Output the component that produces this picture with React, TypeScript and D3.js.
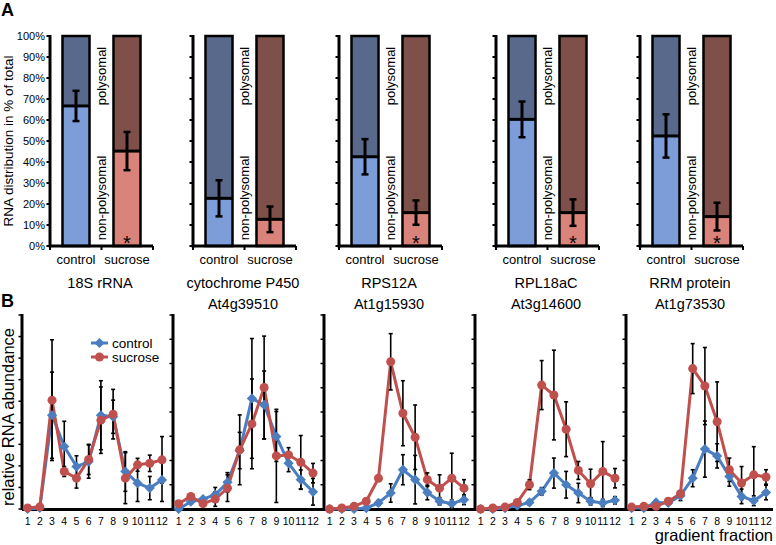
import React from "react";
import * as d3 from "d3";

// ---------- Panel A data ----------
const genes = ["18S rRNA", "cytochrome P450", "RPS12A", "RPL18aC", "RRM protein"];
const geneIds = ["", "At4g39510", "At1g15930", "At3g14600", "At1g73530"];
const conditions = ["control", "sucrose"];
const controlNonPoly = [66.7, 22.7, 42.5, 60.3, 52.4];
const controlErr = [7.2, 8.6, 8.4, 8.5, 10.3];
const sucroseNonPoly = [45.2, 12.7, 15.9, 15.9, 14.0];
const sucroseErr = [9.1, 6.1, 5.8, 6.3, 6.6];
const significant = [true, false, true, true, true];
const pctTicks = [0, 10, 20, 30, 40, 50, 60, 70, 80, 90, 100];

// ---------- Panel B data ----------
const fractions = [1, 2, 3, 4, 5, 6, 7, 8, 9, 10, 11, 12];
const yMaxB = [9, 8, 8, 8, 8];
const controlProfiles = [
  [0, 0.05, 4.35, 2.9, 1.97, 2.2, 4.35, 4.28, 1.74, 1.2, 0.97, 1.35],
  [0, 0.3, 0.41, 0.59, 1.1, 2.41, 4.56, 4.29, 2.99, 1.89, 1.21, 0.71],
  [0, 0, 0, 0.04, 0.25, 0.66, 1.62, 1.21, 0.68, 0.32, 0.22, 0.38],
  [0, 0, 0.04, 0.14, 0.27, 0.73, 1.48, 1.0, 0.66, 0.32, 0.25, 0.36],
  [0.04, 0.04, 0.27, 0.25, 0.55, 1.27, 2.47, 2.19, 1.34, 0.52, 0.34, 0.68],
];
const controlProfileErr = [
  [0, 0, 2.0, 1.17, 0.5, 0.77, 1.6, 0.77, 0.92, 0.85, 0.54, 1.0],
  [0, 0, 0, 0.3, 0.4, 0.75, 2.47, 1.4, 1.03, 0.35, 0.4, 0.55],
  [0, 0, 0, 0, 0.1, 0.38, 0.62, 1.0, 0.3, 0.15, 0.15, 0.2],
  [0, 0, 0, 0, 0.1, 0.15, 0.62, 0.55, 0.4, 0.15, 0.15, 0.15],
  [0, 0, 0.1, 0, 0.2, 0.35, 1.16, 0.5, 0.4, 0.3, 0.2, 0.3],
];
const sucroseProfiles = [
  [0.05, 0.1, 5.05, 1.74, 1.43, 2.3, 4.12, 4.4, 1.43, 2.05, 2.12, 2.28],
  [0.22, 0.52, 0.22, 0.41, 0.86, 2.44, 3.51, 5.01, 2.19, 2.23, 1.93, 1.48],
  [0, 0.04, 0.11, 0.32, 1.27, 6.07, 3.95, 2.96, 1.21, 0.86, 1.27, 0.86],
  [0, 0.04, 0.08, 0.27, 1.0, 5.11, 4.7, 3.29, 1.59, 1.04, 1.55, 1.27],
  [0.08, 0.11, 0.11, 0.32, 0.63, 5.79, 5.07, 3.6, 1.62, 1.07, 1.41, 1.32],
];
const sucroseProfileErr = [
  [0, 0, 2.8, 0.23, 0.46, 0.7, 1.54, 1.15, 1.18, 0.3, 0.38, 1.08],
  [0, 0, 0, 0.3, 0.55, 1.44, 1.85, 2.12, 1.92, 0.3, 1.1, 0.4],
  [0, 0, 0, 0.1, 0.1, 1.16, 1.34, 1.33, 0.28, 0.55, 1.03, 0.35],
  [0, 0, 0, 0, 0.2, 1.01, 1.85, 1.13, 0.37, 0.6, 1.23, 0.4],
  [0, 0, 0, 0, 0.1, 1.03, 1.59, 1.64, 0.48, 0.68, 1.16, 0.3],
];

const FONT = "'Liberation Sans', Arial, Helvetica, sans-serif";
const COLORS = {
  controlLight: "#7d9dd8",
  controlDark: "#58698b",
  sucroseLight: "#d9837a",
  sucroseDark: "#7e5049",
  blue: "#4a7ec0",
  red: "#c0504d",
};

function PanelA({ i }: { i: number }) {
  const axisX = [50, 193, 339, 496, 640][i];
  const y = d3.scaleLinear().domain([0, 100]).range([246, 36]);
  const band = d3
    .scaleBand()
    .domain(conditions)
    .range([axisX, axisX + 103])
    .paddingInner(0.47)
    .paddingOuter(0.245);
  const bw = band.bandwidth();
  const midX = (band("control")! + bw + band("sucrose")!) / 2;
  const vals = [controlNonPoly[i], sucroseNonPoly[i]];
  const errs = [controlErr[i], sucroseErr[i]];
  const light = [COLORS.controlLight, COLORS.sucroseLight];
  const dark = [COLORS.controlDark, COLORS.sucroseDark];
  return (
    <g>
      {conditions.map((c, k) => {
        const x = band(c)!;
        const v = vals[k];
        const e = errs[k];
        const cx = x + bw / 2;
        return (
          <g key={c}>
            <rect x={x} y={y(100)} width={bw} height={y(v) - y(100)} fill={dark[k]} />
            <rect x={x} y={y(v)} width={bw} height={y(0) - y(v)} fill={light[k]} />
            <rect x={x} y={y(100)} width={bw} height={y(0) - y(100)} fill="none" stroke="#000" strokeWidth={2.5} />
            <line x1={x} x2={x + bw} y1={y(v)} y2={y(v)} stroke="#000" strokeWidth={3} />
            <line x1={cx} x2={cx} y1={y(v + e)} y2={y(v - e)} stroke="#000" strokeWidth={3} />
            <line x1={cx - 3.5} x2={cx + 3.5} y1={y(v + e)} y2={y(v + e)} stroke="#000" strokeWidth={2.5} />
            <line x1={cx - 3.5} x2={cx + 3.5} y1={y(v - e)} y2={y(v - e)} stroke="#000" strokeWidth={2.5} />
            {k === 1 && significant[i] && (
              <text x={cx} y={250} textAnchor="middle" fontSize={20} fontFamily={FONT} fill="#000">*</text>
            )}
            <text x={cx} y={264} textAnchor="middle" fontSize={13} fontFamily={FONT} fill="#000">{c}</text>
          </g>
        );
      })}
      <line x1={axisX} x2={axisX} y1={y(100) - 1} y2={y(0) + 1.5} stroke="#000" strokeWidth={3} />
      {pctTicks.map((t) => (
        <g key={t}>
          <line x1={axisX - 3.5} x2={axisX} y1={y(t)} y2={y(t)} stroke="#000" strokeWidth={2} />
          {i === 0 && (
            <text x={axisX - 5} y={y(t)} dy="0.35em" textAnchor="end" fontSize={11} fontFamily={FONT} fill="#000">{t}%</text>
          )}
        </g>
      ))}
      <line x1={axisX} x2={axisX + 103} y1={y(0)} y2={y(0)} stroke="#000" strokeWidth={3} />
      {[axisX, midX, axisX + 103].map((tx, k) => (
        <line key={k} x1={tx} x2={tx} y1={y(0)} y2={y(0) + 4} stroke="#000" strokeWidth={2} />
      ))}
      <text transform={`translate(${midX},76) rotate(-90)`} textAnchor="middle" dominantBaseline="central" fontSize={13} fontFamily={FONT} fill="#000">polysomal</text>
      <text transform={`translate(${midX},198) rotate(-90)`} textAnchor="middle" dominantBaseline="central" fontSize={13} fontFamily={FONT} fill="#000">non-polysomal</text>
      <text x={axisX + 50} y={288} textAnchor="middle" fontSize={14.5} fontFamily={FONT} fill="#000">{genes[i]}</text>
      {geneIds[i] && (
        <text x={axisX + 50} y={309} textAnchor="middle" fontSize={14.5} fontFamily={FONT} fill="#000">{geneIds[i]}</text>
      )}
    </g>
  );
}

function PanelB({ i }: { i: number }) {
  const axes = [22, 173, 324, 475, 626];
  const ax = axes[i];
  const axEnd = i < 4 ? axes[i + 1] : 773;
  const x = d3.scaleLinear().domain([1, 12]).range([ax + 5.6, ax + 140]);
  const y = d3.scaleLinear().domain([0, yMaxB[i]]).range([509, 315]);
  const line = d3
    .line<number>()
    .x((_, k) => x(fractions[k]))
    .y((d) => y(d));
  const ctrl = controlProfiles[i];
  const sucr = sucroseProfiles[i];
  const cErr = controlProfileErr[i];
  const sErr = sucroseProfileErr[i];
  const diamond = d3.symbol(d3.symbolSquare, 52)()!;
  const ticks = d3.range(0, yMaxB[i] + 1);
  const errBars = (vals: number[], errs: number[], key: string) =>
    vals.map((v, k) => {
      const e = errs[k];
      if (!e) return null;
      const cx = x(fractions[k]);
      return (
        <g key={key + k}>
          <line x1={cx} x2={cx} y1={y(v + e)} y2={y(Math.max(0, v - e))} stroke="#000" strokeWidth={1.6} />
          <line x1={cx - 2} x2={cx + 2} y1={y(v + e)} y2={y(v + e)} stroke="#000" strokeWidth={1.6} />
          <line x1={cx - 2} x2={cx + 2} y1={y(Math.max(0, v - e))} y2={y(Math.max(0, v - e))} stroke="#000" strokeWidth={1.6} />
        </g>
      );
    });
  return (
    <g>
      <line x1={ax} x2={ax} y1={y(yMaxB[i]) - 1} y2={510} stroke="#000" strokeWidth={3} />
      {ticks.map((t) => (
        <line key={t} x1={ax - 3.5} x2={ax} y1={y(t)} y2={y(t)} stroke="#000" strokeWidth={1.5} />
      ))}
      <line x1={ax} x2={axEnd} y1={509.5} y2={509.5} stroke="#000" strokeWidth={3} />
      {fractions.map((f) => (
        <text key={f} x={x(f)} y={525} textAnchor="middle" fontSize={10.5} fontFamily={FONT} fill="#000">{f}</text>
      ))}
      <path d={line(ctrl)!} fill="none" stroke={COLORS.blue} strokeWidth={3} strokeLinejoin="round" />
      <path d={line(sucr)!} fill="none" stroke={COLORS.red} strokeWidth={3} strokeLinejoin="round" />
      {errBars(ctrl, cErr, "c")}
      {errBars(sucr, sErr, "s")}
      {ctrl.map((v, k) => (
        <path key={"cm" + k} d={diamond} transform={`translate(${x(fractions[k])},${y(v)}) rotate(45)`} fill={COLORS.blue} />
      ))}
      {sucr.map((v, k) => (
        <circle key={"sm" + k} cx={x(fractions[k])} cy={y(v)} r={4.5} fill={COLORS.red} />
      ))}
      {i === 0 && (
        <g>
          <line x1={91} x2={108} y1={343} y2={343} stroke={COLORS.blue} strokeWidth={3} />
          <path d={diamond} transform="translate(99.5,343) rotate(45)" fill={COLORS.blue} />
          <text x={112} y={348} fontSize={13.5} fontFamily={FONT} fill="#000">control</text>
          <line x1={91} x2={108} y1={357} y2={357} stroke={COLORS.red} strokeWidth={3} />
          <circle cx={99.5} cy={357} r={4.5} fill={COLORS.red} />
          <text x={112} y={362} fontSize={13.5} fontFamily={FONT} fill="#000">sucrose</text>
        </g>
      )}
    </g>
  );
}

export default function App() {
  return (
    <svg width={776} height={545} style={{ position: "absolute", left: 0, top: 0, background: "#fff" }}>
      <rect width={776} height={545} fill="#fff" />
      <text x={1} y={16} fontSize={18} fontWeight="bold" fontFamily={FONT} fill="#000">A</text>
      <text x={1} y={307} fontSize={18} fontWeight="bold" fontFamily={FONT} fill="#000">B</text>
      <text transform="translate(8,141) rotate(-90)" textAnchor="middle" dominantBaseline="central" fontSize={13.5} fontFamily={FONT} fill="#000">RNA distribution in % of total</text>
      <text transform="translate(8,417) rotate(-90)" textAnchor="middle" dominantBaseline="central" fontSize={16.5} fontFamily={FONT} fill="#000">relative RNA abundance</text>
      <text x={773} y={541} textAnchor="end" fontSize={16.5} fontFamily={FONT} fill="#000">gradient fraction</text>
      {genes.map((_, i) => (
        <PanelA key={"a" + i} i={i} />
      ))}
      {genes.map((_, i) => (
        <PanelB key={"b" + i} i={i} />
      ))}
    </svg>
  );
}
